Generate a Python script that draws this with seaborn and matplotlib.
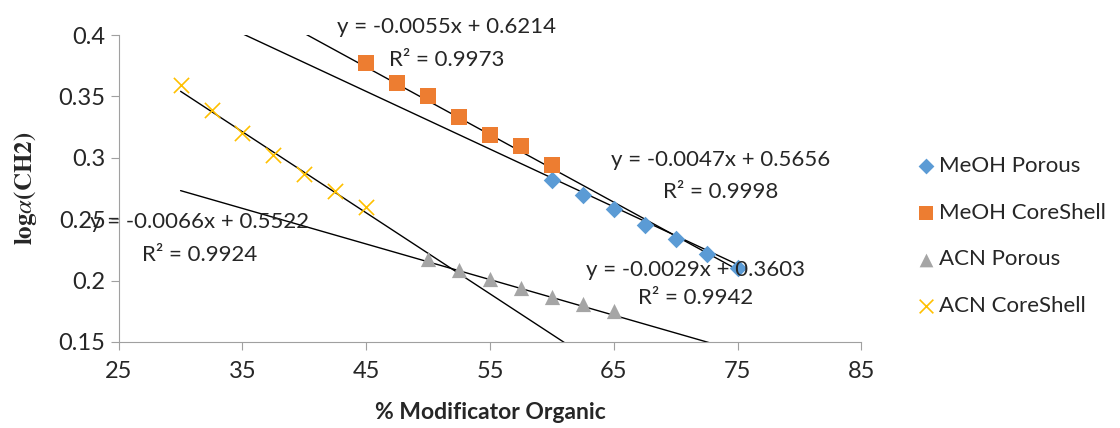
import matplotlib
matplotlib.use("Agg")
import matplotlib.pyplot as plt
import seaborn as sns
import numpy as np
import pandas as pd

# data
meoh_porous_x = [60, 62.5, 65, 67.5, 70, 72.5, 75]
meoh_porous_y = [0.282, 0.270, 0.258, 0.245, 0.234, 0.222, 0.210]
meoh_core_x = [45, 47.5, 50, 52.5, 55, 57.5, 60]
meoh_core_y = [0.377, 0.361, 0.350, 0.333, 0.319, 0.310, 0.294]
acn_porous_x = [50, 52.5, 55, 57.5, 60, 62.5, 65]
acn_porous_y = [0.218, 0.209, 0.201, 0.194, 0.187, 0.181, 0.175]
acn_core_x = [30, 32.5, 35, 37.5, 40, 42.5, 45]
acn_core_y = [0.359, 0.339, 0.320, 0.302, 0.287, 0.273, 0.260]

labels = ["MeOH Porous", "MeOH CoreShell", "ACN Porous", "ACN CoreShell"]
slopes = [-0.0047, -0.0055, -0.0029, -0.0066]
intercepts = [0.5656, 0.6214, 0.3603, 0.5522]
r2 = [0.9998, 0.9973, 0.9942, 0.9924]
trend_x = [30, 75]

sns.set_style("white")
plt.rcParams['font.family'] = ['Lato', 'DejaVu Sans']
plt.rcParams['mathtext.fontset'] = 'stix'

xs = [meoh_porous_x, meoh_core_x, acn_porous_x, acn_core_x]
ys = [meoh_porous_y, meoh_core_y, acn_porous_y, acn_core_y]
frames = [pd.DataFrame({'x': x, 'y': y, 'series': l}) for x, y, l in zip(xs, ys, labels)]
df = pd.concat(frames, ignore_index=True)

colors = ["#5B9BD5", "#ED7D31", "#A5A5A5", "#FFC000"]
markers = ["D", "s", "^", "x"]
sizes = [80, 130, 120, 120]

fig = plt.figure(figsize=(11.2, 4.28), dpi=100)
ax = fig.add_axes([0.106, 0.201, 0.663, 0.717])

for i, lab in enumerate(labels):
    sub = df[df['series'] == lab]
    kw = dict(linewidth=1.2) if markers[i] == 'x' else dict(linewidth=0)
    sns.scatterplot(data=sub, x='x', y='y', color=colors[i], marker=markers[i],
                    s=sizes[i], label=lab, ax=ax, zorder=3, **kw)
    tx = np.array(trend_x, dtype=float)
    ax.plot(tx, slopes[i] * tx + intercepts[i], color='black', linewidth=1, zorder=2)

ax.set_xlim(25, 85)
ax.set_ylim(0.15, 0.4)
ax.set_xticks([25, 35, 45, 55, 65, 75, 85])
ax.set_yticks([0.15, 0.2, 0.25, 0.3, 0.35, 0.4])
ax.set_yticklabels(['0.15', '0.2', '0.25', '0.3', '0.35', '0.4'])
ax.tick_params(axis='both', labelsize=17, length=6, color='#A0A0A0', direction='out',
               bottom=True, left=True)
ax.tick_params(axis='x', pad=8)
for s in ['top', 'right']:
    ax.spines[s].set_visible(False)
for s in ['left', 'bottom']:
    ax.spines[s].set_color('#A0A0A0')

ax.set_xlabel('% Modificator Organic', fontsize=16.5, fontweight='bold', labelpad=14)
ax.set_ylabel(r'$\mathbf{log}\mathit{\alpha}\mathbf{(CH2)}$', fontsize=18, labelpad=14)

# trendline equations: (x centre, y of equation, y of R²)
eq_pos = [(73.6, 0.2980, 0.2722), (51.5, 0.4065, 0.3796),
          (71.6, 0.2086, 0.1858), (31.5, 0.2477, 0.2209)]
for i in range(4):
    x0, ye, yr = eq_pos[i]
    sign = '+' if intercepts[i] >= 0 else '-'
    ax.text(x0, ye, f"y = {slopes[i]:.4f}x {sign} {abs(intercepts[i]):.4f}",
            fontsize=16, ha='center', va='center', clip_on=False, zorder=4)
    ax.text(x0, yr, f"R² = {r2[i]:.4f}", fontsize=16, ha='center', va='center',
            clip_on=False, zorder=4)

ax.legend(loc='center left', bbox_to_anchor=(1.045, 0.345), frameon=False,
          fontsize=16, labelspacing=1.2, handletextpad=0.1, handlelength=1.0,
          markerscale=0.9)

fig.savefig('out.png', dpi=100)
